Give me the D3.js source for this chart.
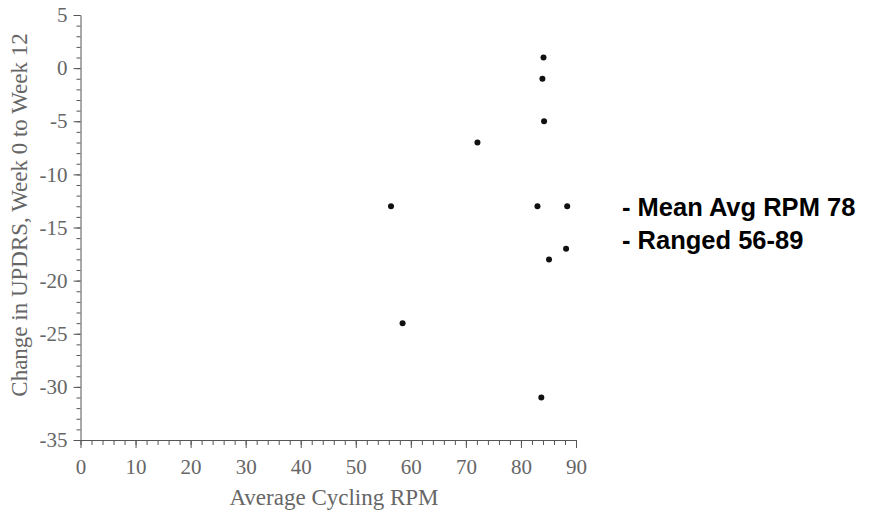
<!DOCTYPE html>
<html>
<head>
<meta charset="utf-8">
<script src="https://cdn.jsdelivr.net/npm/d3@7"></script>
<style>
  body { margin: 0; background: #fff; }
  .axis text { font-family: "Liberation Serif", "Times New Roman", serif; font-size: 21px; fill: #666; }
  .axis path, .axis line { stroke: #555; }
</style>
</head>
<body>
<svg id="chart"></svg>
<script>
// Scatter: change in UPDRS vs average cycling RPM
const rpm = [84.1, 83.9, 84.2, 72.1, 56.4, 83.0, 88.4, 88.2, 85.1, 58.5, 83.7];
const updrsChange = [1, -1, -5, -7, -13, -13, -13, -17, -18, -24, -31];
const xTicks = [0, 10, 20, 30, 40, 50, 60, 70, 80, 90];
const yTicks = [5, 0, -5, -10, -15, -20, -25, -30, -35];
const notes = ["- Mean Avg RPM 78", "- Ranged 56-89"];

const width = 869;
const height = 518;
const plotLeft = 80.5, plotRight = 576, plotTop = 15, plotBottom = 440;

const svg = d3.select("#chart")
    .attr("width", width)
    .attr("height", height);

const x = d3.scaleLinear().domain([0, 90]).range([plotLeft, plotRight]);
const y = d3.scaleLinear().domain([-35, 5]).range([plotBottom, plotTop]);

// minor ticks first, then labelled major ticks on top
svg.append("g")
    .attr("class", "axis")
    .attr("transform", `translate(0,${plotBottom})`)
    .call(d3.axisBottom(x).tickValues(d3.range(0, 91, 2)).tickSize(5).tickFormat(""))
    .call(g => g.select(".domain").remove());

svg.append("g")
    .attr("class", "axis")
    .attr("transform", `translate(0,${plotBottom})`)
    .call(d3.axisBottom(x).tickValues(xTicks).tickSize(8).tickSizeOuter(0).tickPadding(11));

svg.append("g")
    .attr("class", "axis")
    .attr("transform", `translate(${plotLeft},0)`)
    .call(d3.axisLeft(y).tickValues(d3.range(-35, 6, 1)).tickSize(4).tickFormat(""))
    .call(g => g.select(".domain").remove());

svg.append("g")
    .attr("class", "axis")
    .attr("transform", `translate(${plotLeft},0)`)
    .call(d3.axisLeft(y).tickValues(yTicks).tickSize(7).tickSizeOuter(0).tickPadding(6)
        .tickFormat(d => d3.format("d")(d).replace("−", "-")));

// axis titles
svg.append("text")
    .attr("x", 334)
    .attr("y", 505)
    .attr("text-anchor", "middle")
    .style("font-family", "Liberation Serif, serif")
    .style("font-size", "23px")
    .style("fill", "#666")
    .text("Average Cycling RPM");

svg.append("text")
    .attr("transform", `translate(27,215) rotate(-90)`)
    .attr("text-anchor", "middle")
    .style("font-family", "Liberation Serif, serif")
    .style("font-size", "23px")
    .style("fill", "#666")
    .text("Change in UPDRS, Week 0 to Week 12");

// points
svg.append("g")
    .selectAll("circle")
    .data(rpm.map((d, i) => [d, updrsChange[i]]))
    .join("circle")
    .attr("cx", d => x(d[0]))
    .attr("cy", d => y(d[1]))
    .attr("r", 3)
    .attr("fill", "#111");

// side notes
svg.append("g")
    .selectAll("text")
    .data(notes)
    .join("text")
    .attr("x", 622)
    .attr("y", (d, i) => 216 + i * 33)
    .style("font-family", "Liberation Sans, Arial, sans-serif")
    .style("font-weight", "bold")
    .style("font-size", "25.5px")
    .style("fill", "#000")
    .text(d => d);
</script>
</body>
</html>
